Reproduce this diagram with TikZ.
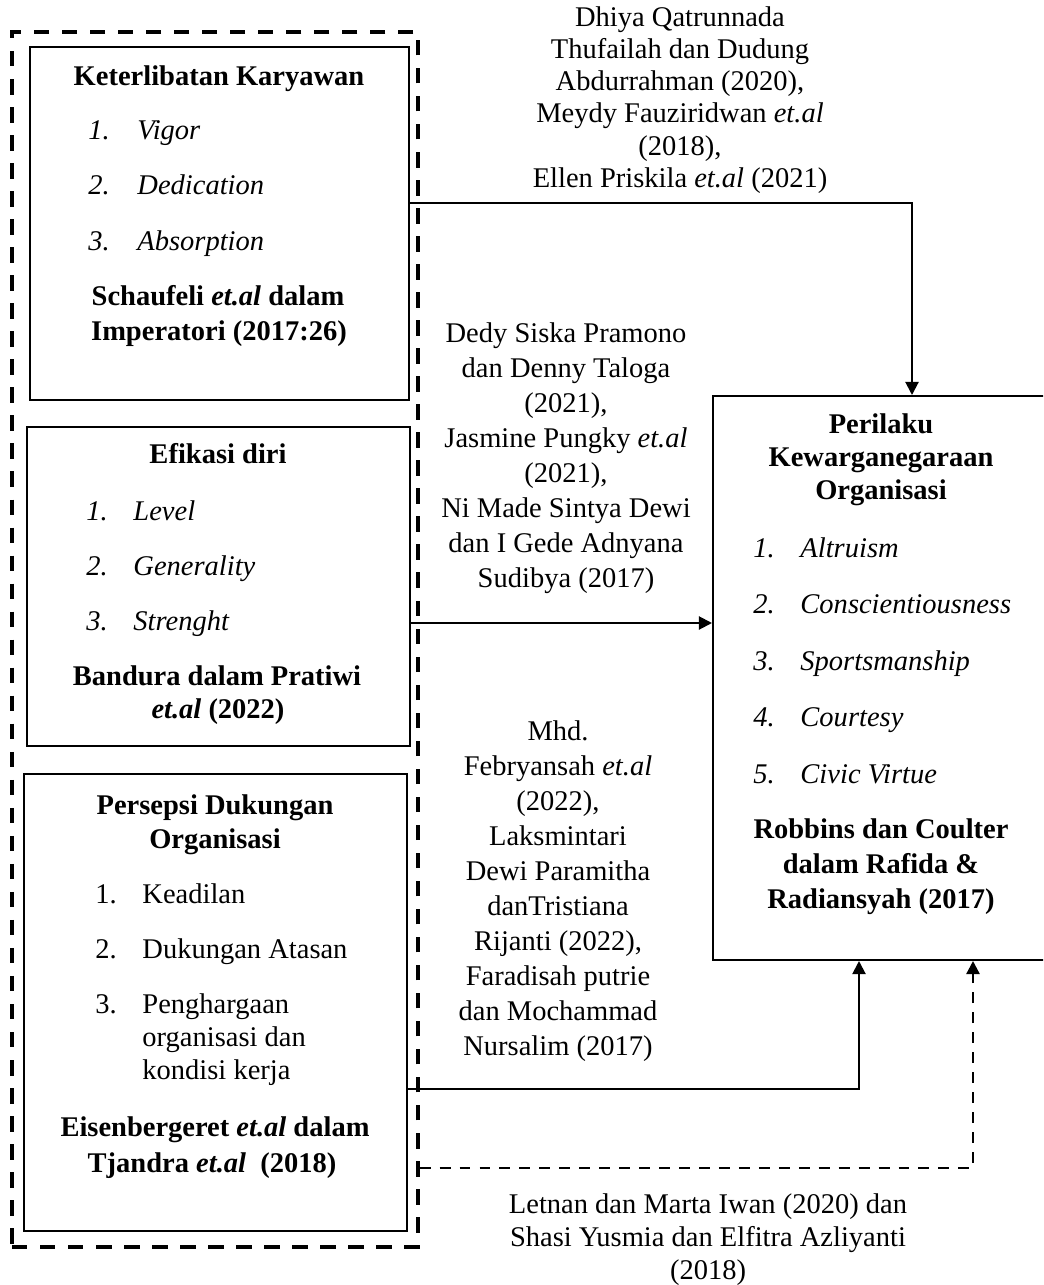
\documentclass[tikz,border=0pt]{standalone}
\usepackage{fontspec}
\setmainfont{Liberation Serif}
\usetikzlibrary{arrows.meta,fit}

\begin{document}
\begin{tikzpicture}[x=0.421pt,y=-0.421pt,>={Triangle[length=5.5pt,width=5.5pt]},
  font=\fontsize{12}{14}\selectfont,
  box/.style={draw,line width=0.85pt,inner sep=0pt},
  grpbox/.style={draw,line width=1.4pt,dash pattern=on 6.5pt off 5.3pt,inner sep=0pt},
  ln/.style={anchor=base,inner sep=0pt},
  lnw/.style={anchor=base west,inner sep=0pt},
  arr/.style={->,line width=0.85pt},
  darr/.style={->,line width=1pt,dash pattern=on 4.6pt off 3.8pt}]
  \useasboundingbox (0,0) rectangle (1043,1285);
  \clip (0,0) rectangle (1043,1285);

  % frames
  \node[grpbox,fit={(12,32) (418,1247)}] (grp) {};
  \node[box,fit={(30,47) (409,400)}] (ket) {};
  \node[box,fit={(27,427) (410,746)}] (efi) {};
  \node[box,fit={(24,774) (407,1231)}] (pdo) {};
  \node[box,fit={(713,396) (1050,960)}] (pkw) {};

  % Keterlibatan Karyawan
  \node[ln] (ketT) at (219,86) {\textbf{Keterlibatan Karyawan}};
  \foreach \txt [count=\i] in {Vigor,Dedication,Absorption}{
    \node[lnw] (ketN\i) at (88,{140+55*(\i-1)}) {\textit{\i.}};
    \node[lnw] (ketI\i) at (137,{140+55*(\i-1)}) {\textit{\txt}};
  }
  \node[ln] (ketS1) at (218,305) {\textbf{Schaufeli \textit{et.al} dalam}};
  \node[ln] (ketS2) at (219,340) {\textbf{Imperatori (2017:26)}};

  % Efikasi diri
  \node[ln] (efiT) at (218,463) {\textbf{Efikasi diri}};
  \foreach \txt [count=\i] in {Level,Generality,Strenght}{
    \node[lnw] (efiN\i) at (86,{520+55*(\i-1)}) {\textit{\i.}};
    \node[lnw] (efiI\i) at (133,{520+55*(\i-1)}) {\textit{\txt}};
  }
  \node[ln] (efiS1) at (217,685) {\textbf{Bandura dalam Pratiwi}};
  \node[ln] (efiS2) at (218,718) {\textbf{\textit{et.al} (2022)}};

  % Persepsi Dukungan Organisasi
  \node[ln] (pdoT1) at (215,814) {\textbf{Persepsi Dukungan}};
  \node[ln] (pdoT2) at (215,848) {\textbf{Organisasi}};
  \foreach \txt [count=\i] in {Keadilan,Dukungan Atasan,Penghargaan}{
    \node[lnw] (pdoN\i) at (95,{903+55*(\i-1)}) {\i.};
    \node[lnw] (pdoI\i) at (142,{903+55*(\i-1)}) {\txt};
  }
  \node[lnw] (pdoI4) at (142,1046) {organisasi dan};
  \node[lnw] (pdoI5) at (142,1079) {kondisi kerja};
  \node[ln] (pdoS1) at (215,1136) {\textbf{Eisenbergeret \textit{et.al} dalam}};
  \node[ln] (pdoS2) at (212,1172) {\textbf{Tjandra \textit{et.al}~~(2018)}};

  % Perilaku Kewarganegaraan Organisasi
  \foreach \txt [count=\i] in {Perilaku,Kewarganegaraan,Organisasi}
    \node[ln] (pkwT\i) at (881,{433+33*(\i-1)}) {\textbf{\txt}};
  \foreach \txt [count=\i] in {Altruism,Conscientiousness,Sportsmanship,Courtesy,Civic Virtue}{
    \node[lnw] (pkwN\i) at (753,{557+56.5*(\i-1)}) {\textit{\i.}};
    \node[lnw] (pkwI\i) at (800,{557+56.5*(\i-1)}) {\textit{\txt}};
  }
  \foreach \txt [count=\i] in {Robbins dan Coulter,dalam Rafida \&,Radiansyah (2017)}
    \node[ln] (pkwS\i) at (881,{838+35*(\i-1)}) {\textbf{\txt}};

  % references on the connectors
  \foreach \txt [count=\i] in {Dhiya Qatrunnada,Thufailah dan Dudung,{Abdurrahman (2020),},
      Meydy Fauziridwan \textit{et.al},{(2018),},Ellen Priskila \textit{et.al} (2021)}
    \node[ln] (refA\i) at (680,{27+32*(\i-1)}) {\txt};
  \foreach \txt [count=\i] in {Dedy Siska Pramono,dan Denny Taloga,{(2021),},
      Jasmine Pungky \textit{et.al},{(2021),},Ni Made Sintya Dewi,dan I Gede Adnyana,Sudibya (2017)}
    \node[ln] (refB\i) at (566,{342+35*(\i-1)}) {\txt};
  \foreach \txt [count=\i] in {Mhd.,Febryansah \textit{et.al},{(2022),},Laksmintari,Dewi Paramitha,
      danTristiana,{Rijanti (2022),},Faradisah putrie,dan Mochammad,Nursalim (2017)}
    \node[ln] (refC\i) at (558,{740+35*(\i-1)}) {\txt};
  \foreach \txt [count=\i] in {Letnan dan Marta Iwan (2020) dan,Shasi Yusmia dan Elfitra Azliyanti,(2018)}
    \node[ln] (refD\i) at (708,{1213+33*(\i-1)}) {\txt};

  % connectors
  \coordinate (k1) at (912,203);
  \coordinate (k2) at (713,623);
  \coordinate (k3) at (859,1089);
  \coordinate (k4) at (973,1168);
  \draw[arr] (ket.east |- k1) -- (k1) -- (k1 |- pkw.north);
  \draw[arr] (efi.east |- k2) -- (pkw.west |- k2);
  \draw[arr] (pdo.east |- k3) -- (k3) -- (k3 |- pkw.south);
  \draw[darr] (grp.east |- k4) -- (k4) -- (k4 |- pkw.south);
\end{tikzpicture}
\end{document}
